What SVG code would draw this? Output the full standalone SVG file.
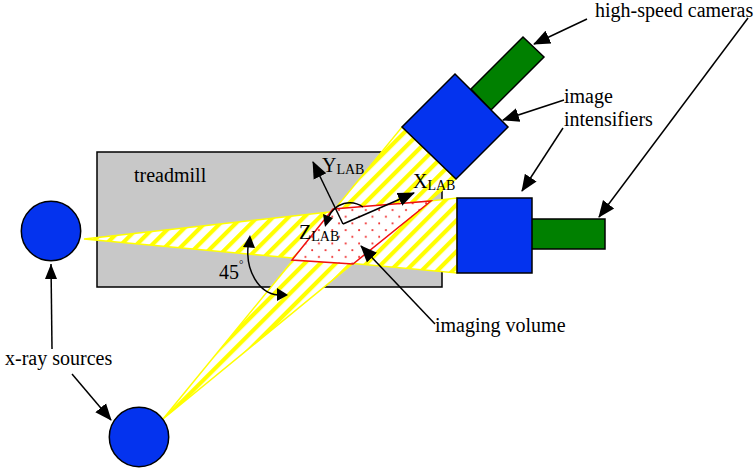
<svg xmlns="http://www.w3.org/2000/svg" width="756" height="471" viewBox="0 0 756 471">
<style>
text{font-family:"Liberation Serif","Times New Roman",serif;font-size:20px;fill:#000}
.sub{font-size:14px}
.src,.int{fill:#0433ee;stroke:#000;stroke-width:1.5}
.cam{fill:#008000;stroke:#000;stroke-width:1.5}
.beam{fill:url(#stripes);stroke:#ffff00;stroke-width:1.5}
.ln{fill:none;stroke:#000;stroke-width:1.5}
</style>
<defs>
<pattern id="stripes" width="11" height="11" patternUnits="userSpaceOnUse" patternTransform="translate(2 3) rotate(45)">
<rect width="11" height="11" fill="#fff"/><rect width="4.2" height="11" fill="#ffff00"/>
</pattern>
<pattern id="dots" width="13.4" height="13.4" patternUnits="userSpaceOnUse" patternTransform="translate(336 207)">
<rect width="13.4" height="13.4" fill="#fff"/><circle cx="3" cy="3" r="1" fill="#f03030"/><circle cx="9.7" cy="9.7" r="1" fill="#f03030"/>
</pattern>
<marker id="ah" markerUnits="userSpaceOnUse" markerWidth="18" markerHeight="16" refX="16" refY="8" orient="auto"><path d="M0 1L17 8L0 15z" fill="#000"/></marker>
</defs>
<g id="treadmill"><rect x="97" y="152" width="345" height="135" fill="#c8c8c8" stroke="#000" stroke-width="1.5"/><text x="134" y="182">treadmill</text></g>
<g id="beams">
<path class="beam" d="M163 419L402 127L456 179z"/>
<path class="beam" d="M84 239L457 198V273z"/>
</g>
<g id="imaging-volume"><path d="M333 209L431 201L353 264L292 260z" fill="url(#dots)" stroke="#f01010" stroke-width="1.5"/><text x="435" y="332">imaging volume</text></g>
<g id="source-left"><circle class="src" cx="51" cy="231" r="29.7"/></g>
<g id="source-bottom"><circle class="src" cx="139" cy="437" r="29.7"/></g>
<g id="camera-top"><path class="cam" d="M523 37L544 57L491 110L471 89z"/></g>
<g id="intensifier-top"><path class="int" d="M455 74L508 127L456 179L402 127z"/></g>
<g id="camera-right"><rect class="cam" x="530" y="219" width="75" height="30"/></g>
<g id="intensifier-right"><rect class="int" x="457" y="198" width="75" height="75"/></g>
<g id="labels">
<text x="595" y="17">high-speed cameras</text>
<text x="564" y="103">image</text>
<text x="564" y="126">intensifiers</text>
<text x="5" y="365">x-ray sources</text>
<text x="219" y="279">45</text><text x="239" y="268" style="font-size:11px">°</text>
<text x="322" y="172">Y<tspan class="sub" dy="2">LAB</tspan></text>
<text x="413" y="188">X<tspan class="sub" dy="2">LAB</tspan></text>
<text x="299" y="239">Z<tspan class="sub" dy="2">LAB</tspan></text>
</g>
<g id="connectors">
<path class="ln" d="M587 19L534 44" marker-end="url(#ah)"/>
<path class="ln" d="M564 100L503 120" marker-end="url(#ah)"/>
<path class="ln" d="M563 128L522 191" marker-end="url(#ah)"/>
<path class="ln" d="M748 18L599 217" marker-end="url(#ah)"/>
<path class="ln" d="M52 349L51 264"/><path d="M51 264L45 279H57z" fill="#000"/>
<path class="ln" d="M72 374L111 420" marker-end="url(#ah)"/>
<path class="ln" d="M435 324L361 246" marker-end="url(#ah)"/>
<path class="ln" d="M343 224L313 162" marker-end="url(#ah)"/>
<path class="ln" d="M343 224L414 193" marker-end="url(#ah)"/>
<path class="ln" d="M328 218C335 202 352 199 363 207"/>
<path d="M323 214L333 218L325 227z" fill="#000"/>
<path class="ln" d="M248 247C246 270 258 293 278 295"/>
<path d="M250 235L243 247L255 248z" fill="#000"/>
<path d="M288 295L277 288L277 301z" fill="#000"/>
</g>
</svg>
